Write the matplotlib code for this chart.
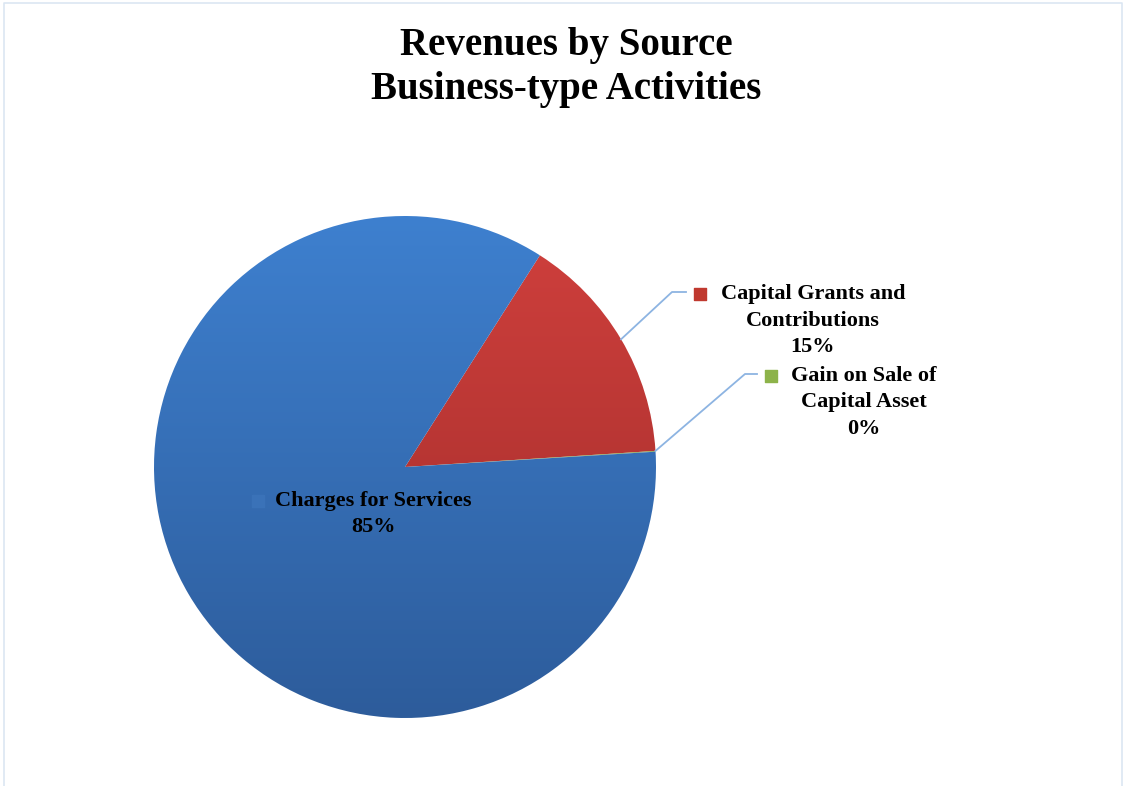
import numpy as np
import matplotlib
matplotlib.use("Agg")
import matplotlib.pyplot as plt
from matplotlib.colors import LinearSegmentedColormap

# data
categories = ["Capital Grants and\nContributions", "Gain on Sale of\nCapital Asset", "Charges for Services"]
shares = [14.95, 0.05, 85.0]
pct_labels = ["15%", "0%", "85%"]
top_colors = ["#d0403d", "#9bbb59", "#3e80cf"]
bottom_colors = ["#9e2b29", "#76923c", "#2d5c9b"]
marker_colors = ["#c0392f", "#8db34a", "#3a72b8"]

W, H = 1125, 786
fig = plt.figure(figsize=(W / 100, H / 100), dpi=100)
ax = fig.add_axes([0, 0, 1, 1])

# faint chart border
ax.plot([4, 4, 1122, 1122], [0, H - 3, H - 3, 0], color="#dbe6f2", lw=1.2)

cx, cy, r = 405, H - 467, 251
wedges, _ = ax.pie(shares, startangle=57.5, counterclock=False, center=(cx, cy),
                   radius=r, frame=True,
                   wedgeprops=dict(linewidth=0))
ax.set_xlim(0, W)
ax.set_ylim(0, H)
ax.set_aspect("equal")
ax.axis("off")

# vertical gradient fill clipped to each wedge
for w, c0, c1 in zip(wedges, top_colors, bottom_colors):
    w.set_facecolor("none")
    cmap = LinearSegmentedColormap.from_list("g", [c1, c0])
    grad = np.linspace(0, 1, 256).reshape(-1, 1)
    im = ax.imshow(grad, cmap=cmap, origin="lower", aspect="auto",
                   extent=(cx - r, cx + r, cy - r, cy + r), zorder=1)
    im.set_clip_path(w)

fp = dict(family="Liberation Serif", fontweight="bold", color="black")

# title
ax.text(566, H - 46, "Revenues by Source", ha="center", va="center", fontsize=28, **fp)
ax.text(566, H - 89, "Business-type Activities", ha="center", va="center", fontsize=28, **fp)

# label layout: (text centre x, first line y, marker x, elbow x, end x)
layouts = [
    (813, 294, 700, 672, 686),
    (864, 376, 771, 745, 757),
    (373, 501, 258, None, None),
]
for w, cat, pct, mc, (tx, ty, mx, ex, endx) in zip(wedges, categories, pct_labels,
                                                    marker_colors, layouts):
    lines = cat.split("\n") + [pct]
    for i, line in enumerate(lines):
        ax.text(tx, H - ty - i * 26.5, line, ha="center", va="center", fontsize=16, **fp)
    ax.scatter([mx], [H - ty], marker="s", s=65, color=mc, zorder=5)
    if ex is not None:
        ang = np.deg2rad((w.theta1 + w.theta2) / 2)
        if w.theta2 - w.theta1 < 1:
            ang = np.deg2rad(w.theta2)
        px, py = cx + r * np.cos(ang), cy + r * np.sin(ang)
        ax.plot([px, ex, endx], [py, H - ty + 2, H - ty + 2], color="#8db4e2", lw=1.3, zorder=4)

fig.savefig("out.png", dpi=100)
